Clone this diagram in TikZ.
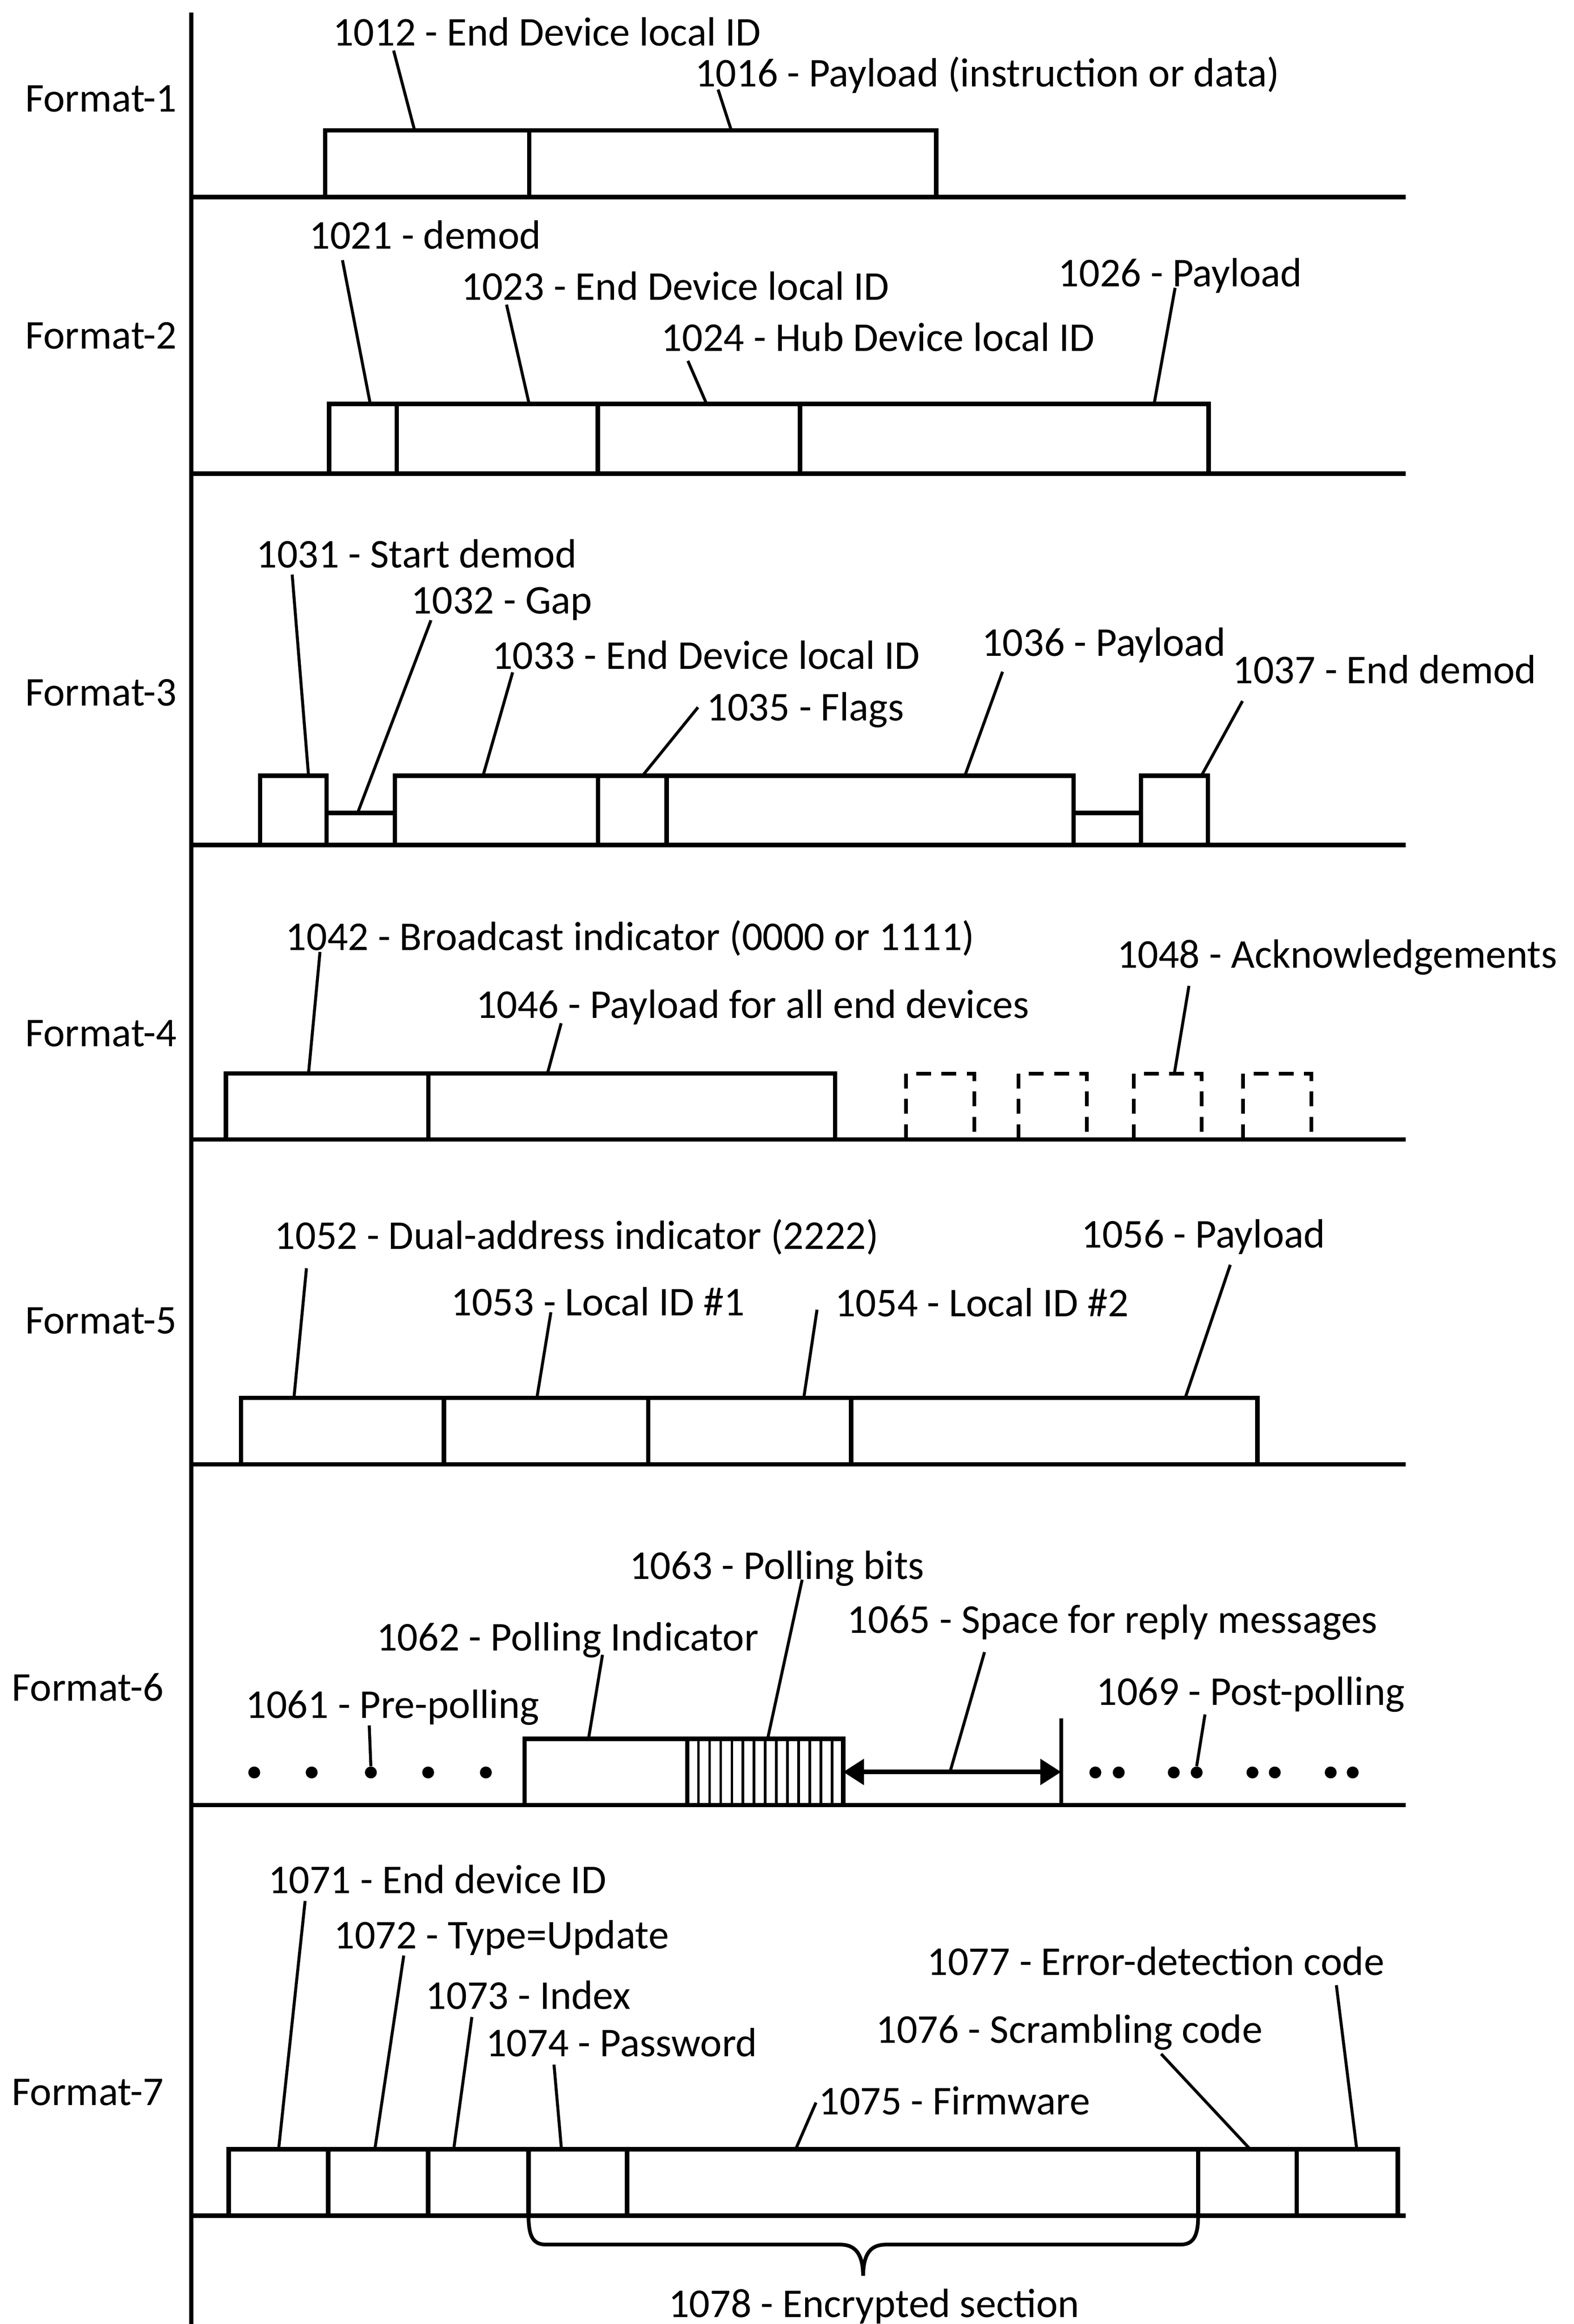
\documentclass[tikz,border=0pt]{standalone}
\usepackage{fontspec}
\setmainfont{Carlito}
\usetikzlibrary{positioning,arrows.meta}
\tikzstyle{packet} = [x = 1pt, y = -1pt]
\tikzstyle{fieldStyle} = [draw, line width=3pt, inner sep=0, outer sep=0, anchor=south west]
\tikzstyle{ackStyle} = [draw, line width=2.5pt, dash pattern=on 10pt off 7pt, inner sep=0, outer sep=0, anchor=south west, minimum width=45.8, minimum height=44.3]
\tikzstyle{baseLine} = [line width=3pt]
\tikzstyle{leaderLine} = [line width=2pt]
\tikzstyle{bitLine} = [line width=1.8pt]
\tikzstyle{labelText} = [inner sep=0, outer sep=0, anchor=base west, font=\fontsize{27.5}{33}\selectfont]
\tikzstyle{dotStyle} = [circle, fill=black, inner sep=0, minimum size=8pt]
\tikzstyle{replyArrow} = [line width=3pt, {Triangle[length=14pt, width=17pt]}-{Triangle[length=14pt, width=17pt]}]
\newcommand{\field}[5]{\node [fieldStyle, minimum width=#3-#2, minimum height=#5-#4] (#1) at (#2,#5) {};}
\newcommand{\baseLineAt}[1]{\draw [baseLine] (128.6,#1) -- (945,#1);}
\newcommand{\fieldLabel}[4]{\node [labelText] (#1) at (#2,#3) {#4};}
\newcommand{\leader}[5]{\draw [leaderLine] ([xshift=#2pt, yshift=#3pt]#1.base west) -- (#5,0 |- #4.north);}

\begin{document}
\begin{tikzpicture}[packet]
    \useasboundingbox (0,0) rectangle (1058,1562.4);
    \draw [baseLine] (128.6,8.4) -- (128.6,1562.4);
    % Format-1
    \fieldLabel{fmt1}{16.9}{75.3}{Format-1}
    \baseLineAt{132.5}
    \field{f1a}{218.6}{355.7}{87.7}{132.5}
    \field{f1b}{355.7}{629.3}{87.7}{132.5}
    \fieldLabel{l1012}{223.8}{30.7}{1012 - End Device local ID}
    \fieldLabel{l1016}{467.2}{58.3}{1016 - Payload (instruction or data)}
    \leader{l1012}{40.8}{-3.3}{f1a}{278.7}
    \leader{l1016}{15.5}{-1.9}{f1b}{491.6}
    % Format-2
    \fieldLabel{fmt2}{16.9}{234.5}{Format-2}
    \baseLineAt{318.5}
    \field{f2a}{221.2}{266.7}{271.6}{318.5}
    \field{f2b}{266.7}{401.8}{271.6}{318.5}
    \field{f2c}{401.8}{537.8}{271.6}{318.5}
    \field{f2d}{537.8}{812.4}{271.6}{318.5}
    \fieldLabel{l1021}{208}{167.2}{1021 - demod}
    \fieldLabel{l1023}{310.2}{201.6}{1023 - End Device local ID}
    \fieldLabel{l1024}{444.6}{236.2}{1024 - Hub Device local ID}
    \fieldLabel{l1026}{711.5}{192.5}{1026 - Payload}
    \leader{l1021}{22.2}{-7.7}{f2a}{248.9}
    \leader{l1023}{30.3}{-3.2}{f2b}{355.7}
    \leader{l1024}{17.8}{-6.4}{f2c}{475}
    \leader{l1026}{78.4}{-1}{f2d}{775.8}
    % Format-3
    \fieldLabel{fmt3}{16.9}{474.5}{Format-3}
    \baseLineAt{568}
    \field{f3a}{174.8}{219.5}{521.5}{568}
    \field{f3b}{219.5}{265.5}{546.5}{568}
    \field{f3c}{265.5}{402}{521.5}{568}
    \field{f3d}{402}{448}{521.5}{568}
    \field{f3e}{448}{721.7}{521.5}{568}
    \field{f3f}{721.7}{767}{546.5}{568}
    \field{f3g}{767}{812}{521.5}{568}
    \fieldLabel{l1031}{172.3}{381.6}{1031 - Start demod}
    \fieldLabel{l1032}{276.5}{412.6}{1032 - Gap}
    \fieldLabel{l1033}{330.7}{449.9}{1033 - End Device local ID}
    \fieldLabel{l1035}{475.2}{484.5}{1035 - Flags}
    \fieldLabel{l1036}{660}{441}{1036 - Payload}
    \fieldLabel{l1037}{828.6}{459.6}{1037 - End demod}
    \leader{l1031}{24.1}{-4.7}{f3a}{207.4}
    \leader{l1032}{13.2}{-4.4}{f3b}{240.4}
    \leader{l1033}{13.9}{-2.1}{f3c}{324.7}
    \leader{l1035}{-6}{9}{f3d}{431.9}
    \leader{l1036}{13.9}{-10.6}{f3e}{648.6}
    \leader{l1037}{6.6}{-11.7}{f3g}{807.6}
    % Format-4
    \fieldLabel{fmt4}{16.9}{703.5}{Format-4}
    \baseLineAt{766}
    \field{f4a}{151.8}{288}{721.7}{766}
    \field{f4b}{288}{561.3}{721.7}{766}
    \foreach \ackX [count=\i] in {609,684.7,762,835.7}
        \node [ackStyle] (ack\i) at (\ackX,766) {};
    \fieldLabel{l1042}{192.1}{639}{1042 - Broadcast indicator (0000 or 1111)}
    \fieldLabel{l1046}{320}{684.6}{1046 - Payload for all end devices}
    \fieldLabel{l1048}{750.9}{650.8}{1048 - Acknowledgements}
    \leader{l1042}{23}{-1}{f4a}{207.4}
    \leader{l1046}{57.2}{-3.3}{f4b}{368}
    \leader{l1048}{48.3}{-12}{ack3}{789.4}
    % Format-5
    \fieldLabel{fmt5}{16.9}{896.5}{Format-5}
    \baseLineAt{984.5}
    \field{f5a}{162}{298.5}{939.8}{984.5}
    \field{f5b}{298.5}{435.7}{939.8}{984.5}
    \field{f5c}{435.7}{572.2}{939.8}{984.5}
    \field{f5d}{572.2}{845.3}{939.8}{984.5}
    \fieldLabel{l1052}{184.6}{839.8}{1052 - Dual-address indicator (2222)}
    \fieldLabel{l1053}{303.3}{884.6}{1053 - Local ID \#1}
    \fieldLabel{l1054}{561.3}{885}{1054 - Local ID \#2}
    \fieldLabel{l1056}{727}{838.7}{1056 - Payload}
    \leader{l1052}{21.4}{-12.8}{f5a}{197.6}
    \leader{l1053}{67}{2.4}{f5b}{360.9}
    \leader{l1054}{-12.1}{4.5}{f5c}{540.3}
    \leader{l1056}{100}{-11.6}{f5d}{796.7}
    % Format-6
    \fieldLabel{fmt6}{8}{1143.5}{Format-6}
    \baseLineAt{1213.5}
    \field{f6a}{352.6}{462}{1169}{1213.5}
    \field{f6b}{462}{566.8}{1169}{1213.5}
    \foreach \i in {1,...,13}
        \draw [bitLine] ([xshift=\i*7.49pt]f6b.north west) -- ([xshift=\i*7.49pt]f6b.south west);
    \foreach \dotX [count=\i] in {170.9,209.5,249.3,287.8,326.6}
        \node [dotStyle] (pre\i) at (\dotX,1191.6) {};
    \foreach \dotX [count=\i] in {736.3,752,789,804.4,841.9,856.9,894.5,909.3}
        \node [dotStyle] (post\i) at (\dotX,1191.6) {};
    \coordinate (replyTop) at (713.3,1155.3);
    \draw [line width=2.5pt] (replyTop) -- (replyTop |- f6b.south);
    \draw [replyArrow] (f6b.east) -- (f6b.east -| replyTop);
    \fieldLabel{l1061}{165.2}{1155}{1061 - Pre-polling}
    \fieldLabel{l1062}{253.2}{1109.9}{1062 - Polling Indicator}
    \fieldLabel{l1063}{423.2}{1061.6}{1063 - Polling bits}
    \fieldLabel{l1065}{569.6}{1098}{1065 - Space for reply messages}
    \fieldLabel{l1069}{737}{1146.2}{1069 - Post-polling}
    \draw [leaderLine] ([xshift=83pt, yshift=-5pt]l1061.base west) -- (pre3.north);
    \leader{l1062}{151.8}{-2.6}{f6a}{395.6}
    \leader{l1063}{116}{-0.4}{f6b}{516}
    \draw [leaderLine] ([xshift=92.2pt, yshift=-12.7pt]l1065.base west) -- (638.6,0 |- f6b.east);
    \draw [leaderLine] ([xshift=73pt, yshift=-6.4pt]l1069.base west) -- (post4.north);
    % Format-7
    \fieldLabel{fmt7}{8}{1415.5}{Format-7}
    \baseLineAt{1489.5}
    \field{f7a}{153.7}{220.6}{1444.8}{1489.5}
    \field{f7b}{220.6}{287.8}{1444.8}{1489.5}
    \field{f7c}{287.8}{355.3}{1444.8}{1489.5}
    \field{f7d}{355.3}{421.6}{1444.8}{1489.5}
    \field{f7e}{421.6}{805.4}{1444.8}{1489.5}
    \field{f7f}{805.4}{871.7}{1444.8}{1489.5}
    \field{f7g}{871.7}{939.6}{1444.8}{1489.5}
    \fieldLabel{l1071}{180.3}{1272.8}{1071 - End device ID}
    \fieldLabel{l1072}{224.5}{1310}{1072 - Type=Update}
    \fieldLabel{l1073}{286.2}{1350.7}{1073 - Index}
    \fieldLabel{l1074}{326.6}{1382.6}{1074 - Password}
    \fieldLabel{l1075}{550.4}{1421.5}{1075 - Firmware}
    \fieldLabel{l1076}{588.9}{1373.5}{1076 - Scrambling code}
    \fieldLabel{l1077}{623.3}{1328}{1077 - Error-detection code}
    \leader{l1071}{24.8}{-5.2}{f7a}{187.3}
    \leader{l1072}{46.9}{-4.7}{f7b}{252}
    \leader{l1073}{31}{-5.3}{f7c}{305}
    \leader{l1074}{45.8}{-5.4}{f7d}{377.4}
    \leader{l1075}{-1.9}{8}{f7e}{534.9}
    \leader{l1076}{191.6}{-7.3}{f7f}{840.3}
    \leader{l1077}{275}{-6.6}{f7g}{912}
    % encrypted section brace
    \draw [line width=2.5pt] (f7d.south west) .. controls (355.3,1503) and (358,1509) .. (367,1509)
        -- (564.7,1509) .. controls (574,1509) and (580,1514) .. (580.2,1530)
        .. controls (580.4,1514) and (586,1509) .. (595.7,1509)
        -- (793.4,1509) .. controls (802.4,1509) and (805.4,1503) .. (f7e.south east);
    \fieldLabel{l1078}{449.4}{1558}{1078 - Encrypted section}
\end{tikzpicture}
\end{document}
